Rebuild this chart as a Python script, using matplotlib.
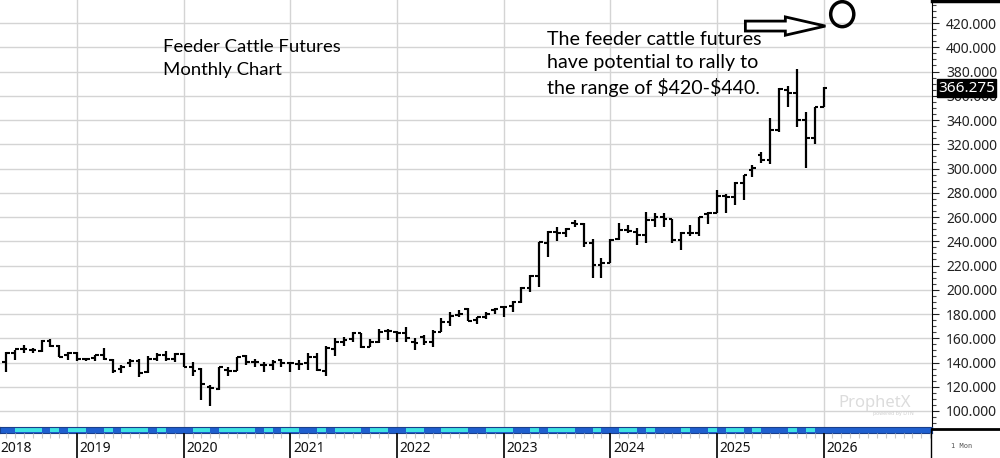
import matplotlib.pyplot as plt
from matplotlib.patches import FancyArrow, Ellipse
from matplotlib.lines import Line2D
from matplotlib.ticker import MultipleLocator, FormatStrFormatter

# monthly feeder cattle bars, May 2018 .. Jan 2026
first_month = (2018, 5)
opens = [140.7, 147.6, 151, 150, 149.8, 158, 154, 146,
         148, 142.5, 143.5, 146, 142, 134.4, 140, 141.5, 132, 142.6, 146.2, 143,
         147, 136.6, 135, 120, 118, 134, 133.4, 145, 140.8, 138, 138, 142.2,
         139.5, 139, 139.5, 144.9, 132.6, 151, 157.3, 159.2, 164.1, 153, 157.3, 166.3,
         165.5, 164, 157.2, 161, 157.2, 165.4, 173.7, 179.2, 183.8, 175.1, 177.8, 183.3,
         185.5, 186.9, 190.2, 201.2, 211.3, 238.8, 247.9, 246.5, 254.7, 254.2, 238.8, 220.4,
         222.3, 241.6, 249.3, 247.9, 245.2, 257.5, 260.3, 258, 241, 246.5, 246.5, 262.5,
         263.6, 277.3, 276.8, 287.8, 298.8, 311.1, 307, 331.8, 364.7, 362, 340, 324.9,
         351]
highs = [149, 150.4, 154.5, 151.7, 158.6, 159.4, 154.5, 149,
         149, 143, 146.2, 151.7, 142.5, 138, 142.5, 142.5, 145, 147.6, 149.4, 147.6,
         147.6, 140.8, 135.5, 121.6, 136.7, 136.7, 144.9, 146.3, 142.7, 140.8, 142.2, 143,
         140.8, 142.2, 148.2, 147.7, 153.2, 160, 161.4, 165.5, 164.1, 159.2, 167.4, 167.4,
         166.3, 169.6, 160, 162.7, 166.8, 176.4, 181.9, 183.3, 184.7, 177.3, 181.9, 184.7,
         186, 190.7, 202.5, 212.1, 239.6, 248.7, 251.4, 250.6, 257.5, 254.7, 241.5, 225.9,
         241.6, 254.8, 253.4, 250.6, 264.4, 263, 263.6, 258.5, 247.9, 253.4, 260.3, 264.4,
         282.3, 279, 289.1, 294.6, 302.9, 313.9, 341.4, 366.1, 368, 381.8, 346.9, 351,
         367.5]
lows = [132.5, 142.1, 148, 148, 149, 153, 144.3, 142,
        141.5, 141.5, 141, 142, 131.6, 131, 136.6, 127.8, 131.6, 141, 141.5, 140.2,
        136, 129, 108.8, 103.8, 117, 129, 132.6, 138, 136.7, 131.8, 134, 136.7,
        131.8, 134, 134, 132.6, 128.5, 145, 153.2, 157.3, 151.8, 152.6, 156.4, 158.6,
        157.3, 157.2, 150.3, 154.4, 153.1, 165, 170.1, 177.8, 174.5, 171.8, 175.6, 180,
        177.3, 182, 188.8, 198.4, 202, 226.7, 240.4, 243.7, 251.4, 234.9, 209.4, 209.4,
        221.8, 241, 246.5, 236.9, 238.3, 252, 252, 238.3, 232.8, 244.3, 244.3, 254.2,
        263, 263.6, 269.9, 274, 293.3, 304.3, 303.7, 330.4, 351, 334.5, 300.1, 320.2,
        351]
closes = [147.6, 151, 151, 150, 158.1, 154, 144.8, 148,
          142.5, 142.5, 146, 142.6, 133.3, 136.6, 141.5, 131.6, 142.6, 146.2, 143, 147,
          136.6, 132.6, 122.5, 119, 136.7, 133.4, 144.9, 140.8, 140.8, 138, 140.8, 139.5,
          139.5, 139, 144.9, 134, 151.8, 157.3, 158.6, 164.1, 152.6, 157.3, 165.5, 166.3,
          164.1, 160, 155.8, 157, 165.4, 173.7, 178.4, 180, 174.5, 177.8, 180, 183.8,
          186, 190.2, 201.2, 211.3, 239.6, 247.9, 246.5, 249.8, 254.2, 238.8, 220.4, 222.3,
          241, 249.3, 248.7, 245.2, 257.5, 260.3, 258, 241, 246.5, 247.1, 260.3, 263.6,
          277.3, 276.2, 287.8, 294.6, 300.1, 307, 331.8, 365.3, 362, 340, 324.9, 351,
          366.275]
# session strip under the bars (C = cyan, B = blue), one per bar
strip_flags = list("BCCCBCBCCBBCBCCCBCBBBCCBCCCCBCBCCBBCBCCCBCCBBCCBBCCCBBCCCBBCBCCCBBCBBCCBCBBBCBBCBCCBCBBBCBCBB")
years = list(range(2018, 2027))
last_price = 366.275

t0 = (first_month[0] - 2018) * 12 + first_month[1] - 1
tt = [t0 + i for i in range(len(closes))]
strip_flags = (strip_flags + ["B"] * len(tt))[:len(tt)]

XLIM = (3.33, 108.2)
H = 458.0
def fy(y):
    return 1 - y / H

fig = plt.figure(figsize=(10, 4.58), dpi=100)
ax = fig.add_axes([0, fy(427), 0.932, 427 / H])

# grid
ax.yaxis.set_major_locator(MultipleLocator(20))
ax.yaxis.set_minor_locator(MultipleLocator(5))
ax.yaxis.set_major_formatter(FormatStrFormatter('%.3f'))
ax.set_xticks([(y - 2018) * 12 for y in years])
ax.set_xlim(XLIM)
ax.set_ylim(86.8, 439)
ax.grid(True, which='major', color='#d4d4d4', lw=1)
ax.set_axisbelow(True)
ax.tick_params(axis='x', length=0, labelbottom=False)
ax.yaxis.tick_right()
ax.tick_params(axis='y', which='major', length=5, width=0.8, pad=5, labelsize=10,
               colors='#222222')
ax.tick_params(axis='y', which='minor', length=3, width=0.8, colors='#444444')
for lab in ax.get_yticklabels():
    lab.set_fontfamily('Noto Sans')
for s in ['left', 'top', 'bottom']:
    ax.spines[s].set_visible(False)
ax.spines['right'].set_color('black')

# OHLC bars
tw = 0.42
ax.vlines(tt, lows, highs, color='black', lw=1.6)
ax.hlines(opens, [t - tw for t in tt], tt, color='black', lw=1.5)
ax.hlines(closes, tt, [t + tw for t in tt], color='black', lw=1.5)

# last price box
ax.text(1.0065, last_price, '%.3f' % last_price, transform=ax.get_yaxis_transform(),
        ha='left', va='center', color='white', fontsize=11, family='Noto Sans',
        bbox=dict(boxstyle='square,pad=0.1', fc='black', ec='black'), clip_on=False)

# annotations
fig.text(0.163, fy(39), 'Feeder Cattle Futures\nMonthly Chart', ha='left', va='top',
         fontsize=13.3, family='Lato', linespacing=1.55)
fig.text(0.547, fy(31), 'The feeder cattle futures\nhave potential to rally to\nthe range of \\$420-\\$440.',
         ha='left', va='top', fontsize=14.1, family='Lato', linespacing=1.42)
ax.add_patch(FancyArrow(87.2, 417.5, 9.0, 0, width=8.2, head_width=15.1, head_length=4.5,
                        length_includes_head=True, fc='white', ec='black', lw=2, zorder=5))
ax.add_patch(Ellipse((98.1, 427.3), 2.6, 20.6, fc='none', ec='black', lw=2.5, zorder=5,
                     clip_on=False))

# watermark
fig.text(0.875, fy(403), 'ProphetX', ha='center', va='center', fontsize=12,
         fontweight='bold', color='#dcdcdc', family='Noto Sans')
fig.text(0.893, fy(413), 'powered by DTN', ha='center', va='center', fontsize=3.5,
         color='#cfcfcf')

# session strip
axs = fig.add_axes([0, fy(433), 0.932, 6 / H])
cols = ['#3fe3e3' if f == 'C' else '#1f5fcf' for f in strip_flags]
axs.bar(tt, 0.7, bottom=0.15, width=1, align='edge', color=cols, lw=0)
axs.set_xlim(XLIM)
axs.set_ylim(0, 1)
axs.set_facecolor('#1f5fcf')
axs.set_xticks([])
axs.set_yticks([])
for s in axs.spines.values():
    s.set_color('#1a3f8a')

# time axis
axb = fig.add_axes([0, 0, 0.932, fy(433)])
axb.vlines(range(0, 110), 0.8, 1, color='#c8c8c8', lw=0.8)
for y in years:
    t = (y - 2018) * 12
    axb.vlines(t, 0, 1, color='black', lw=1.2)
    axb.text(max(t + 0.3, XLIM[0] + 0.05), 0.4, str(y), ha='left', va='center',
             fontsize=10, family='Noto Sans', color='#111111')
axb.set_xlim(XLIM)
axb.set_ylim(0, 1)
axb.axis('off')

# right panel frame
fig.add_artist(Line2D([0.932, 1], [fy(1.2), fy(1.2)], color='black', lw=2.5))
fig.add_artist(Line2D([0.932, 1], [fy(428.5), fy(428.5)], color='black', lw=2))
fig.add_artist(Line2D([0.931, 0.931], [0, fy(428.5)], color='black', lw=1))
fig.text(0.962, fy(446), '1 Mon', ha='center', va='center', fontsize=5,
         family='DejaVu Sans Mono', color='#555555')

fig.savefig('out.png', dpi=100)
